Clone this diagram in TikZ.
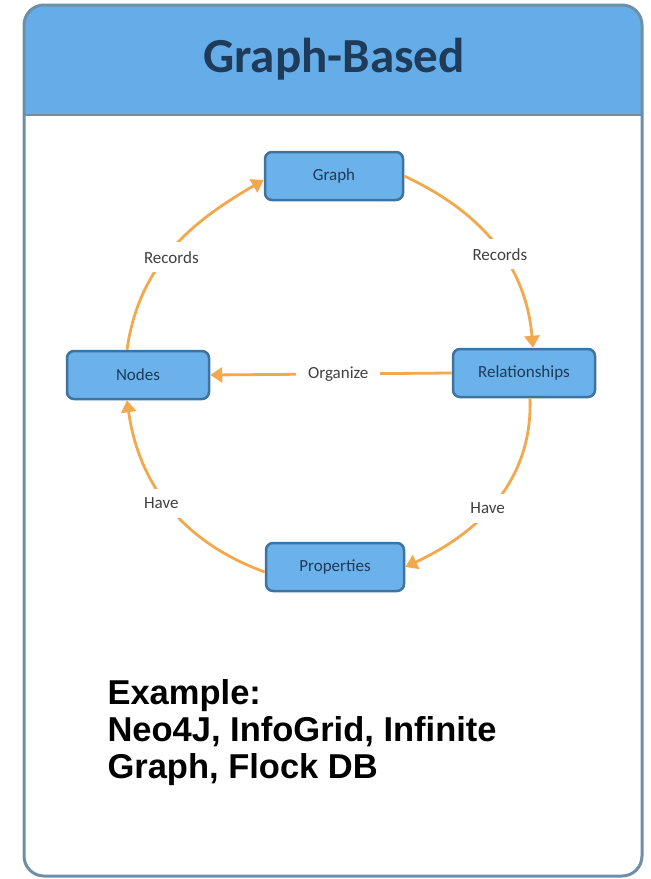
\documentclass[tikz,border=0pt]{standalone}
\usepackage{fontspec}
\setmainfont{Carlito}
\newfontfamily\exfont{Liberation Sans}
\usetikzlibrary{arrows.meta,positioning}
\definecolor{headblue}{HTML}{65ADE8}
\definecolor{boxblue}{HTML}{6BB1EA}
\definecolor{boxline}{HTML}{3E72A0}
\definecolor{frameline}{HTML}{6E8FA8}
\definecolor{titlenavy}{HTML}{1F3B5A}
\definecolor{arrorange}{HTML}{F2A94E}
\tikzset{
  box/.style={draw=boxline, fill=boxblue, line width=2.5pt, rounded corners=7pt,
    minimum width=138pt, minimum height=48pt, font=\fontsize{17}{19}\selectfont, text=titlenavy},
  arr/.style={draw=arrorange, line width=2.8pt, -{Triangle[length=12pt,width=15pt]}},
  lbl/.style={fill=white, inner xsep=6pt, inner ysep=9pt, font=\fontsize{17}{19}\selectfont, text=black!75}
}

\begin{document}
\begin{tikzpicture}[x=1pt,y=1pt]
            \useasboundingbox (0,0) rectangle (651,-879);
            \fill[white] (0,0) rectangle (651,-879);

            % frame with header band
            \begin{scope}
              \clip[rounded corners=20pt] (24,-5) rectangle (642,-876);
              \fill[headblue] (24,-5) rectangle (642,-115);
            \end{scope}
            \draw[frameline, line width=1.8pt] (24,-115) -- (642,-115);
            \draw[frameline, line width=3pt, rounded corners=20pt] (24,-5) rectangle (642,-876);
            \node[anchor=base] (title) at (334,-72) {\fontsize{49}{54}\selectfont\bfseries\color{titlenavy}Graph-Based};

            % the cycle
            \node[box] (graph) at (334,-176) {Graph};
            \node[box, minimum width=142pt] (nodes) at (138,-375) {Nodes};
            \node[box, minimum width=142pt] (rel) at (524,-373) {Relationships};
            \node[box] (props) at (335,-567) {Properties};

            \draw[arr] ([xshift=-11pt]nodes.north) to[out=82,in=210]
              node[lbl, pos=0.45, xshift=6pt] {Records} ([yshift=-4pt]graph.west);
            \draw[arr] (graph.east) to[out=-25,in=95]
              node[lbl, pos=0.56, xshift=-2pt] {Records} ([xshift=9pt]rel.north);
            \draw[arr] ([xshift=6pt]rel.south) to[out=-88,in=25]
              node[lbl, pos=0.55, xshift=-2pt] {Have} (props.east);
            \draw[arr] ([yshift=-5pt]props.west) to[out=160,in=-82]
              node[lbl, pos=0.52, xshift=-6pt] {Have} ([xshift=-11pt]nodes.south);
            \draw[arr] (rel.west) -- node[lbl, inner xsep=12pt, pos=0.47] {Organize} (nodes.east);

            % examples
            \node[anchor=base west, align=left, font=\exfont\bfseries\fontsize{34.5}{37}\selectfont]
              (example) at (104,-778) {Example:\\Neo4J, InfoGrid, Infinite\\Graph, Flock DB};
        \end{tikzpicture}
\end{document}
